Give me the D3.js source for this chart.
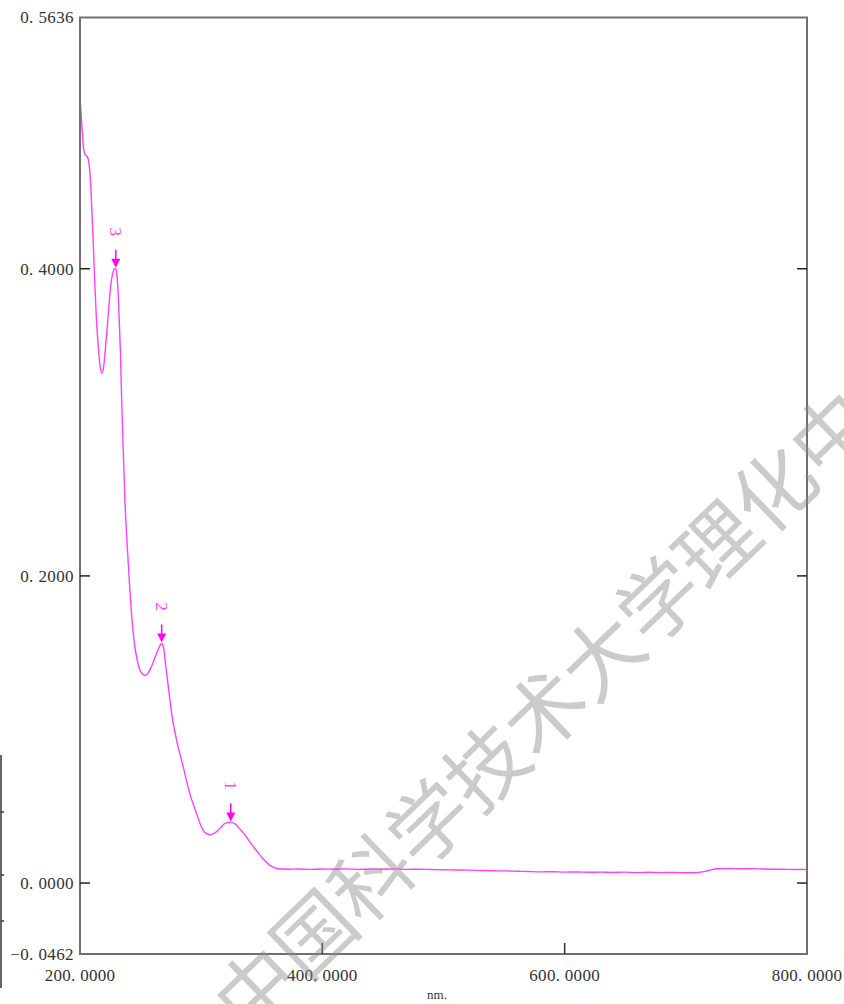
<!DOCTYPE html>
<html>
<head>
<meta charset="utf-8">
<script src="https://cdn.jsdelivr.net/npm/d3@7"></script>
<style>
  body { margin: 0; background: #fff; }
  svg { display: block; }
</style>
</head>
<body>
<div id="chart"></div>
<script>
// Spectrum (wavelength in nm, absorbance)
const wavelengths = [200, 201, 202, 203, 204.5, 206, 207.5, 209, 210.5, 212, 213.5, 215, 216.5, 218, 219.5,
  221, 222.5, 224, 225.5, 227, 228.5, 229.5, 230.5, 231.8, 233.3, 234.4, 235.7, 237.1, 239.2, 241.7, 244.6,
  248.3, 251.2, 254.2, 256.5, 259, 262, 265, 267.4, 269, 271, 273.5, 275.7, 280, 285.3, 290,
  296.3, 300, 303, 307.3, 312, 316, 320, 324.4, 328, 331, 335, 340, 345.8, 351.3, 356.8, 361, 366.5,
  372, 380, 390, 400, 410, 420, 430, 440, 450, 460, 470, 480, 490, 500, 510, 520, 530, 540, 550, 560,
  570, 580, 590, 600, 610, 620, 630, 640, 650, 660, 670, 680, 690, 700, 710, 718, 726, 735, 745, 755,
  765, 775, 785, 795, 800];
const absorbance = [0.512, 0.500, 0.488, 0.478, 0.474, 0.473, 0.468, 0.452, 0.425, 0.395, 0.368, 0.350, 0.337, 0.332, 0.336,
  0.348, 0.362, 0.377, 0.390, 0.397, 0.400, 0.400, 0.396, 0.379, 0.347, 0.314, 0.282, 0.249, 0.2165, 0.184, 0.158,
  0.1416, 0.1364, 0.1351, 0.137, 0.141, 0.147, 0.153, 0.156, 0.153, 0.140, 0.124, 0.110, 0.092, 0.0753, 0.060,
  0.045, 0.037, 0.033, 0.0315, 0.033, 0.036, 0.039, 0.0395, 0.0385, 0.036, 0.0325, 0.027, 0.021, 0.0156, 0.0115, 0.0098, 0.0091,
  0.0090, 0.0091, 0.0089, 0.0091, 0.0090, 0.0092, 0.0089, 0.0091, 0.0090, 0.0092, 0.0089, 0.0090, 0.0088, 0.0087, 0.0085, 0.0084, 0.0082, 0.0080, 0.0079, 0.0077,
  0.0075, 0.0073, 0.0074, 0.0071, 0.0072, 0.0070, 0.0071, 0.0069, 0.0071, 0.0068, 0.0070, 0.0068, 0.0069, 0.0067, 0.0069, 0.0080, 0.0093, 0.0095, 0.0093, 0.0094,
  0.0091, 0.0090, 0.0089, 0.0088, 0.0089];

// Picked peaks
const peakLabels = ["1", "2", "3"];
const peakNm = [324.4, 267.4, 229.5];
const peakAbs = [0.0395, 0.156, 0.400];

// Axis ticks
const yTicks = [0.5636, 0.4, 0.2, 0.0, -0.0462];
const yTickLabels = ["0. 5636", "0. 4000", "0. 2000", "0. 0000", "\u22120. 0462"];
const yTickMarks = [0.4, 0.2, 0.0];
const xTicks = [200, 400, 600, 800];
const xTickLabels = ["200. 0000", "400. 0000", "600. 0000", "800. 0000"];
const xTickMarks = [400, 600];
const xTitle = "nm.";
const watermark = "中国科学技术大学理化中心";

const W = 844, H = 1004;
const plot = {left: 80, right: 807, top: 17.5, bottom: 954};
const lineColor = "#ff40ff";

const svg = d3.select("#chart").append("svg")
  .attr("width", W)
  .attr("height", H);

const x = d3.scaleLinear().domain([200, 800]).range([plot.left, plot.right]);
const y = d3.scaleLinear().domain([-0.0462, 0.5636]).range([plot.bottom, plot.top]);

// Spectrum line
const pts = wavelengths.map((w, i) => ({w: w, a: absorbance[i]}));
const line = d3.line()
  .x(d => x(d.w))
  .y(d => y(d.a))
  .curve(d3.curveMonotoneX);

svg.append("path")
  .datum(pts)
  .attr("d", line)
  .attr("fill", "none")
  .attr("stroke", lineColor)
  .attr("stroke-width", 1.4);

// Frame
svg.append("rect")
  .attr("x", plot.left)
  .attr("y", plot.top)
  .attr("width", plot.right - plot.left)
  .attr("height", plot.bottom - plot.top)
  .attr("fill", "none")
  .attr("stroke", "#707070")
  .attr("stroke-width", 2);

// Tick marks, pointing inward
svg.selectAll(".ytickL")
  .data(yTickMarks)
  .enter().append("line")
  .attr("x1", plot.left).attr("x2", plot.left + 10)
  .attr("y1", d => y(d)).attr("y2", d => y(d))
  .attr("stroke", "#222").attr("stroke-width", 1.5);

svg.selectAll(".ytickR")
  .data(yTickMarks)
  .enter().append("line")
  .attr("x1", plot.right - 10).attr("x2", plot.right)
  .attr("y1", d => y(d)).attr("y2", d => y(d))
  .attr("stroke", "#222").attr("stroke-width", 1.5);

svg.selectAll(".xtick")
  .data(xTickMarks)
  .enter().append("line")
  .attr("x1", d => x(d)).attr("x2", d => x(d))
  .attr("y1", plot.bottom - 11).attr("y2", plot.bottom)
  .attr("stroke", "#333").attr("stroke-width", 1.5);

// Tick labels
const labelFont = "'Liberation Serif', 'DejaVu Serif', serif";

svg.selectAll(".ylab")
  .data(yTicks)
  .enter().append("text")
  .attr("x", plot.left - 6)
  .attr("y", d => y(d))
  .attr("dy", "0.35em")
  .attr("text-anchor", "end")
  .style("font-family", labelFont)
  .style("font-size", "17px")
  .style("letter-spacing", "0.4px")
  .attr("fill", "#333")
  .text((d, i) => yTickLabels[i]);

svg.selectAll(".xlab")
  .data(xTicks)
  .enter().append("text")
  .attr("x", d => x(d))
  .attr("y", 981)
  .attr("text-anchor", "middle")
  .style("font-family", labelFont)
  .style("font-size", "17px")
  .style("letter-spacing", "0.3px")
  .attr("fill", "#333")
  .text((d, i) => xTickLabels[i]);

svg.append("text")
  .attr("x", 437)
  .attr("y", 999)
  .attr("text-anchor", "middle")
  .style("font-family", labelFont)
  .style("font-size", "13px")
  .attr("fill", "#333")
  .text(xTitle);

// Peak markers: arrow plus rotated number
const peaks = svg.selectAll(".peak")
  .data(peakLabels)
  .enter().append("g")
  .attr("transform", (d, i) => `translate(${x(peakNm[i])},${y(peakAbs[i])})`);

peaks.append("line")
  .attr("x1", 0).attr("x2", 0)
  .attr("y1", -19).attr("y2", -6)
  .attr("stroke", "#ff00ff").attr("stroke-width", 1.5);

peaks.append("path")
  .attr("d", "M-4.5,-10 L4.5,-10 L0,-1 Z")
  .attr("fill", "#ff00ff");

peaks.append("text")
  .attr("transform", "translate(0,-37) rotate(90)")
  .attr("text-anchor", "middle")
  .attr("dy", "0.35em")
  .style("font-family", labelFont)
  .style("font-size", "17px")
  .attr("fill", "#ff40ff")
  .text(d => d);

// Left edge of a neighbouring figure
svg.append("line")
  .attr("x1", 1).attr("x2", 1)
  .attr("y1", 755).attr("y2", 988)
  .attr("stroke", "#333").attr("stroke-width", 1.5);
svg.selectAll(".edgetick")
  .data([812, 875, 921])
  .enter().append("line")
  .attr("x1", 1).attr("x2", 4)
  .attr("y1", d => d).attr("y2", d => d)
  .attr("stroke", "#333").attr("stroke-width", 1.5);

// Watermark
svg.append("text")
  .attr("transform", "translate(574,685) rotate(-44)")
  .attr("text-anchor", "middle")
  .attr("dy", "0.35em")
  .style("font-family", "'Noto Sans CJK SC', sans-serif")
  .style("font-size", "80px")
  .style("font-weight", "400")
  .attr("fill", "#8c8c8c")
  .attr("fill-opacity", 0.45)
  .text(watermark);
</script>
</body>
</html>
